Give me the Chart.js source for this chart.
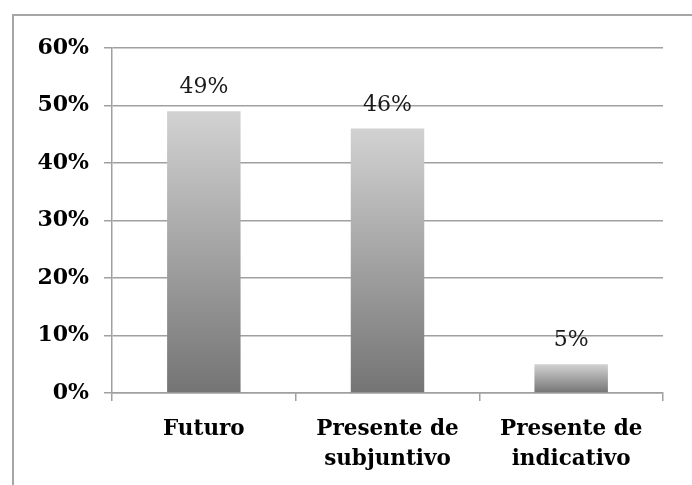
<!DOCTYPE html>
<html>
<head>
<meta charset="utf-8">
<script src="https://cdn.jsdelivr.net/npm/chart.js@4"></script>
<style>
  html, body { margin: 0; padding: 0; background: #fff; overflow: hidden; }
  #wrap { position: relative; width: 692px; height: 485px; }
  canvas { display: block; }
</style>
</head>
<body>
<div id="wrap"><canvas id="tiempos"></canvas></div>
<script>
const categorias = [['Futuro'], ['Presente de', 'subjuntivo'], ['Presente de', 'indicativo']];
const porcentajes = [49, 46, 5];
const ticksY = [0, 10, 20, 30, 40, 50, 60];

const fuente = "'DejaVu Serif', serif";

// marco gris: solo se ven el borde superior y el izquierdo
const marco = {
    id: 'marco',
    beforeDraw(chart) {
        const ctx = chart.ctx;
        ctx.save();
        ctx.strokeStyle = '#a6a6a6';
        ctx.lineWidth = 2;
        ctx.beginPath();
        ctx.moveTo(13, chart.height + 5);
        ctx.lineTo(13, 15);
        ctx.lineTo(chart.width + 5, 15);
        ctx.stroke();
        ctx.restore();
    },
};

// etiquetas de valor encima de cada barra
const etiquetas = {
    id: 'etiquetas',
    afterDatasetsDraw(chart) {
        const ctx = chart.ctx;
        const meta = chart.getDatasetMeta(0);
        ctx.save();
        ctx.font = '22px ' + fuente;
        ctx.fillStyle = '#1a1a1a';
        ctx.textAlign = 'center';
        ctx.textBaseline = 'alphabetic';
        meta.data.forEach(function (bar, i) {
            ctx.fillText(porcentajes[i] + '%', bar.x, bar.y - 18);
        });
        ctx.restore();
    },
};

function degradado(context) {
    const chart = context.chart;
    if (!chart.chartArea) return '#a0a0a0';
    const y = chart.scales.y;
    const arriba = y.getPixelForValue(porcentajes[context.dataIndex]);
    const abajo = y.getPixelForValue(0);
    const g = chart.ctx.createLinearGradient(0, arriba, 0, abajo);
    g.addColorStop(0, '#d2d2d2');
    g.addColorStop(1, '#747474');
    return g;
}

new Chart(document.getElementById('tiempos'), {
    type: 'bar',
    data: {
        labels: categorias,
        datasets: [
            {
                data: porcentajes,
                backgroundColor: degradado,
                borderWidth: 0,
                barPercentage: 0.8,
                categoryPercentage: 0.5,
            },
        ],
    },
    options: {
        responsive: true,
        maintainAspectRatio: false,
        animation: false,
        layout: {
            padding: { left: 0, top: 48, right: 29, bottom: 0 },
        },
        plugins: {
            legend: { display: false },
            tooltip: { enabled: false },
        },
        scales: {
            y: {
                min: 0,
                max: 60,
                afterFit(scale) {
                    scale.width = 112;
                },
                afterBuildTicks(scale) {
                    scale.ticks = ticksY.map(function (v) { return { value: v }; });
                },
                ticks: {
                    padding: 15,
                    color: '#000',
                    font: { family: fuente, size: 22, weight: 'bold' },
                    callback: function (v) { return v + '%'; },
                },
                grid: {
                    color: '#a0a0a0',
                    lineWidth: 1.5,
                    tickLength: 8,
                },
                border: { color: '#a0a0a0', width: 1.5 },
            },
            x: {
                afterFit(scale) {
                    scale.height = 92;
                },
                ticks: {
                    padding: 13,
                    color: '#000',
                    maxRotation: 0,
                    font: { family: fuente, size: 21.5, weight: 'bold', lineHeight: 1.4 },
                },
                grid: {
                    color: '#a0a0a0',
                    lineWidth: 1.5,
                    drawOnChartArea: false,
                    tickLength: 8,
                },
                border: { color: '#a0a0a0', width: 1.5 },
            },
        },
    },
    plugins: [marco, etiquetas],
});
</script>
</body>
</html>
